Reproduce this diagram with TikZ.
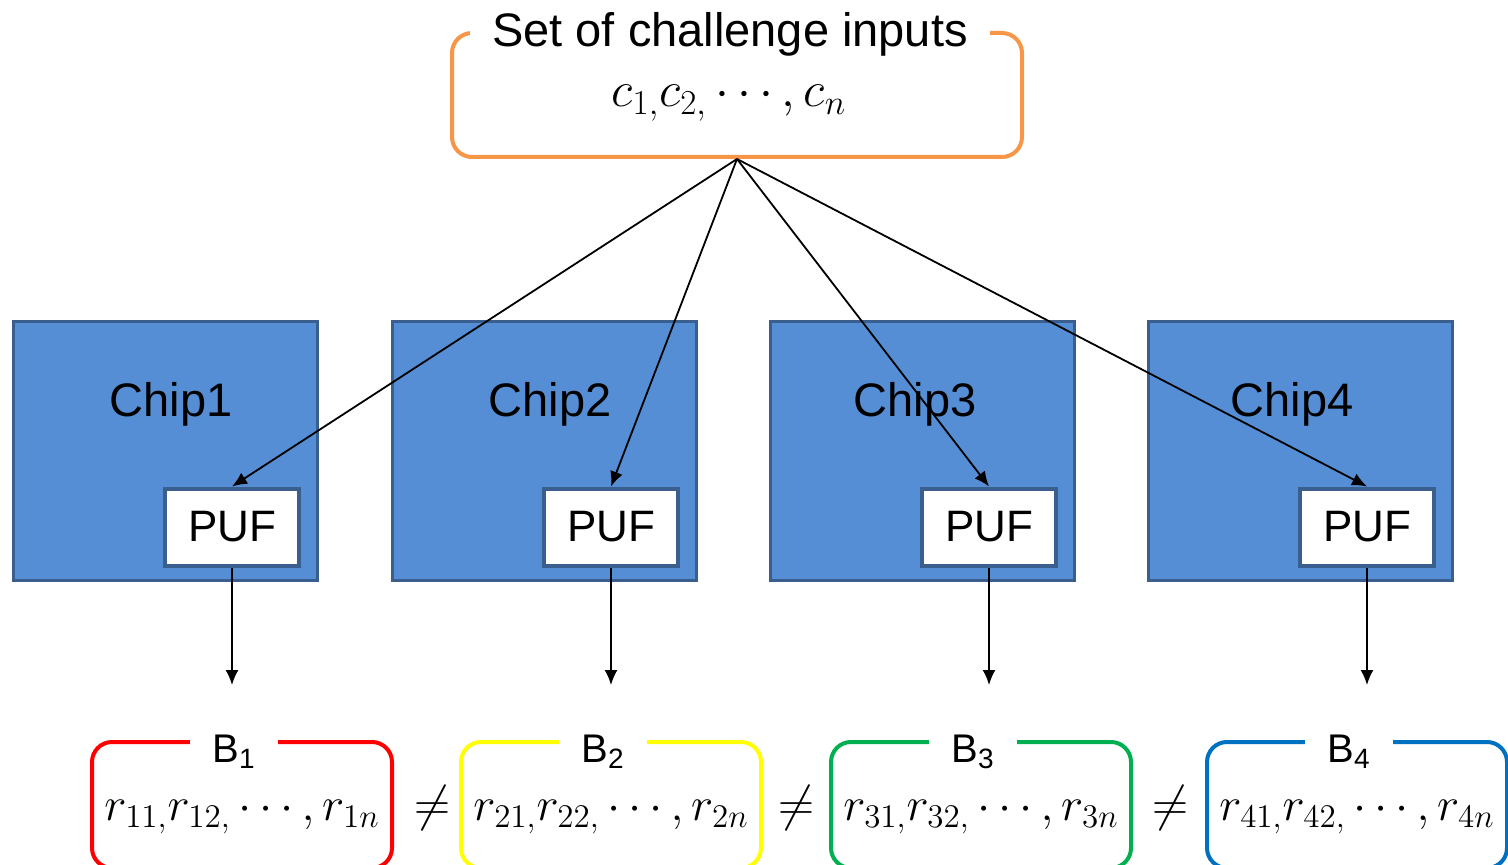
\RequirePackage{fix-cm}
\documentclass[tikz,border=0pt]{standalone}
\usepackage{fontspec}
\setmainfont{Liberation Sans}
\usetikzlibrary{positioning,calc,arrows.meta}

\definecolor{chipblue}{HTML}{558ED5}
\definecolor{chipedge}{HTML}{3A5F8E}
\definecolor{setorange}{HTML}{F79646}
\definecolor{resred}{HTML}{FF0000}
\definecolor{resyellow}{HTML}{FFFF00}
\definecolor{resgreen}{HTML}{00B050}
\definecolor{resblue}{HTML}{0070C0}

\tikzset{
  chip/.style={draw=chipedge, fill=chipblue, line width=1.5pt,
    minimum width=152pt, minimum height=129pt},
  puf/.style={draw=chipedge, fill=white, line width=2pt,
    minimum width=67pt, minimum height=38.5pt,
    font=\fontsize{22}{26}\selectfont},
  chiptext/.style={font=\fontsize{23.5}{28}\selectfont, inner sep=0pt},
  setbox/.style={draw=setorange, line width=2pt, rounded corners=10pt,
    minimum width=285pt, minimum height=62pt},
  resbox/.style={line width=2pt, rounded corners=10pt,
    minimum width=150pt, minimum height=63pt},
  boxtitle/.style={fill=white, inner xsep=11pt, inner ysep=0pt,
    font=\fontsize{23.5}{28}\selectfont},
  restitle/.style={fill=white, inner xsep=11pt, inner ysep=0pt,
    font=\fontsize{20}{24}\selectfont},
  mathtext/.style={inner sep=0pt, font=\fontsize{25}{30}\selectfont},
  resmath/.style={inner sep=0pt, font=\fontsize{23.6}{28}\selectfont},
  link/.style={-{Latex[length=7.5pt,width=6.5pt]}, line width=0.9pt}
}

\begin{document}
\begin{tikzpicture}[x=0.5pt, y=-0.5pt]

  % canvas
  \useasboundingbox (0,0) rectangle (1508,865);

  % challenge set
  \node[setbox] (inputs) at (737,95) {};
  \node[boxtitle, anchor=base] (inputstitle) at (730,47) {Set of challenge inputs};
  \node[mathtext, anchor=base] (inputsmath) at (729,107) {$c_{1,}c_{2,}\cdots,c_{n}$};

  % chips and responses
  \foreach \i/\cx/\tx/\bx/\col in {1/165/171/242/resred, 2/544/550/611/resyellow,
                                   3/922/915/981/resgreen, 4/1300/1292/1357/resblue} {
    \node[chip] (chip\i) at (\cx,451) {};
    \node[chiptext, anchor=base] (chipname\i) at (\tx,417) {Chip\i};
    \node[puf] (puf\i) at (\cx+67,527) {PUF};
    \coordinate (out\i) at (\cx+67,685);
    \node[resbox, draw=\col] (res\i) at (\bx,805) {};
    \node[restitle, anchor=base] (restitle\i) at (\bx-8,762) {B\textsubscript{\i}};
    \node[resmath, anchor=base] (resmath\i) at (\bx,820)
      {$r_{\i1,}r_{\i2,}\cdots,r_{\i n}$};
  }

  % connectors
  \foreach \i in {1,...,4} {
    \draw[link] (inputs.south) -- (puf\i.north);
    \draw[link] (puf\i.south) -- (out\i);
  }

  % inequalities
  \node[mathtext, anchor=base] (neq1) at (432,820) {$\neq$};
  \node[mathtext, anchor=base] (neq2) at (796,820) {$\neq$};
  \node[mathtext, anchor=base] (neq3) at (1170,820) {$\neq$};

\end{tikzpicture}
\end{document}
